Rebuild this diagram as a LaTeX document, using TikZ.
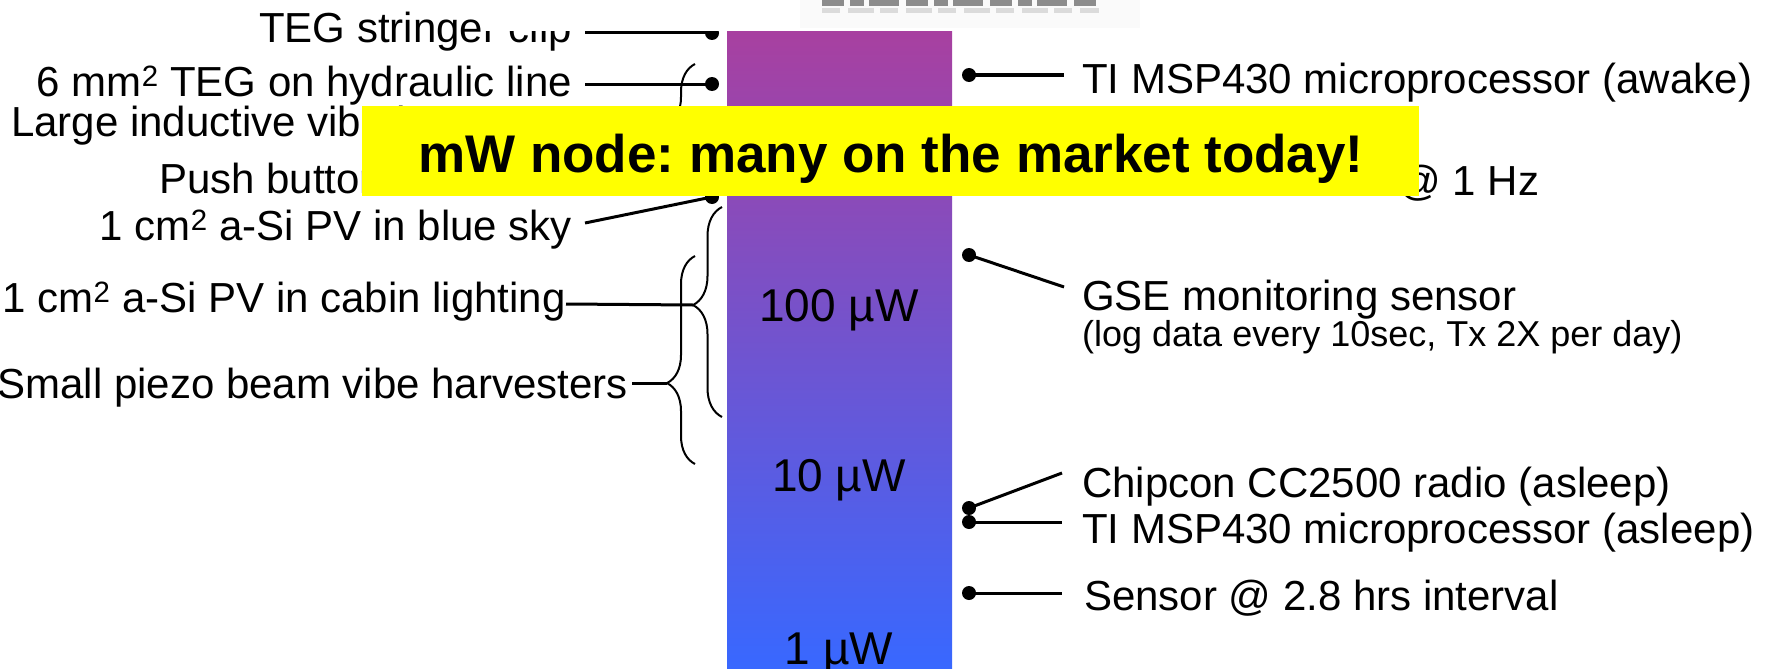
\documentclass[tikz,border=0pt]{standalone}
\usepackage{fontspec}
\setmainfont{Liberation Sans}
\usetikzlibrary{decorations.pathreplacing}
\definecolor{bartop}{RGB}{168,64,160}
\definecolor{barmid}{RGB}{115,86,212}
\definecolor{barbot}{RGB}{56,104,255}
\definecolor{banner}{RGB}{255,255,0}
\tikzset{
  lbl/.style={font=\fontsize{42}{48}\selectfont, inner sep=0pt},
  sublbl/.style={font=\fontsize{36}{42}\selectfont, inner sep=0pt},
  pw/.style={font=\fontsize{46}{52}\selectfont, inner sep=0pt, anchor=base},
  dotn/.style={circle, fill=black, inner sep=0pt, minimum size=14pt},
  conn/.style={line width=3pt},
  brc/.style={line width=2pt, decorate},
}
\frenchspacing
\begin{document}
\begin{tikzpicture}[x=1pt,y=-1pt]
\useasboundingbox (0,0) rectangle (1777,669);
% power bar
\shade[top color=bartop, middle color=barmid, bottom color=barbot] (727,31) rectangle (952,669);
\node[pw] (p100) at (839,321) {100 µW};
\node[pw] (p10) at (839,491) {10 µW};
\node[pw] (p1) at (839,664) {1 µW};

% braces
\draw[brc, decoration={brace, amplitude=28pt, aspect=0.496}] (695,185) -- (695,64);
\coordinate (bCtip) at (667,124);
\draw[brc, decoration={brace, amplitude=29pt, aspect=0.533}] (722,417) -- (722,207);
\coordinate (bBtip) at (693,305);
\draw[brc, decoration={brace, amplitude=28pt, aspect=0.389}] (695,464) -- (695,256);
\coordinate (bAtip) at (667,383);

% left labels
\node[lbl, anchor=base east] (teg) at (572,43) {TEG stringer clip};
\coordinate (tegL) at (585,33);
\node[dotn] (tegD) at (712,33) {};
\draw[conn] (tegL) -- (tegD.center);

\node[lbl, anchor=base east] (hyd) at (572,96) {6 mm\textsuperscript{2} TEG on hydraulic line};
\coordinate (hydL) at (585,84);
\node[dotn] (hydD) at (712,84) {};
\draw[conn] (hydL) -- (hydD.center);

\node[lbl, anchor=base west] (ind) at (11,136) {Large inductive vibe harvesters};
\coordinate (indL) at (602,124);
\draw[conn] (indL) -- (bCtip);

\node[lbl, anchor=base west] (push) at (159,193) {Push button};
\coordinate (pushL) at (395,180);
\node[dotn] (pushD) at (712,180) {};
\draw[conn] (pushL) -- (pushD.center);

\node[lbl, anchor=base east] (sky) at (572,240) {1 cm\textsuperscript{2} a-Si PV in blue sky};
\coordinate (skyL) at (585,223);
\node[dotn] (skyD) at (712,197) {};
\draw[conn] (skyL) -- (skyD.center);

\node[lbl, anchor=base east] (cab) at (566,312) {1 cm\textsuperscript{2} a-Si PV in cabin lighting};
\coordinate (cabL) at (566,304);
\draw[conn] (cabL) -- (bBtip);

\node[lbl, anchor=base east] (pie) at (628,398) {Small piezo beam vibe harvesters};
\coordinate (pieL) at (632,383);
\draw[conn] (pieL) -- (bAtip);

% right labels
\node[dotn] (awD) at (969,75) {};
\coordinate (awR) at (1064,75);
\draw[conn] (awD.center) -- (awR);
\node[lbl, anchor=base west] (aw) at (1082,93) {TI MSP430 microprocessor (awake)};

\node[dotn] (hzD) at (969,180) {};
\coordinate (hzR) at (1064,180);
\draw[conn] (hzD.center) -- (hzR);
\node[lbl, anchor=base west] (hz) at (1088,195) {Wireless sensor @ 1 Hz};

\node[dotn] (gseD) at (969,255) {};
\coordinate (gseR) at (1064,287);
\draw[conn] (gseD.center) -- (gseR);
\node[lbl, anchor=base west] (gse) at (1082,310) {GSE monitoring sensor};
\node[sublbl, anchor=base west] (gse2) at (1082,346) {(log data every 10sec, Tx 2X per day)};

\node[dotn] (ccD) at (969,508) {};
\coordinate (ccR) at (1062,473);
\draw[conn] (ccD.center) -- (ccR);
\node[lbl, anchor=base west] (cc) at (1082,497) {Chipcon CC2500 radio (asleep)};

\node[dotn] (asD) at (969,522) {};
\coordinate (asR) at (1062,522);
\draw[conn] (asD.center) -- (asR);
\node[lbl, anchor=base west] (as) at (1082,543) {TI MSP430 microprocessor (asleep)};

\node[dotn] (snD) at (969,593) {};
\coordinate (snR) at (1062,593);
\draw[conn] (snD.center) -- (snR);
\node[lbl, anchor=base west] (sn) at (1084,610) {Sensor @ 2.8 hrs interval};

% banner
\node[fill=banner, inner sep=0pt, minimum width=1057pt, minimum height=90pt] (box) at (890.5,151) {};
\node[font=\fontsize{53}{60}\selectfont\bfseries, inner sep=0pt, anchor=base] (boxtxt) at (891,172) {mW node: many on the market today!};

% faded image fragment at the top
\fill[white] (481,0) rectangle (1148,31);
\fill[black!2] (800,0) rectangle (1140,28);
\draw[black!45, line width=6pt, dash pattern=on 22pt off 6pt on 14pt off 5pt on 30pt off 7pt] (822,3) -- (1099,3);
\draw[black!14, line width=5pt, dash pattern=on 18pt off 8pt on 26pt off 6pt] (822,11) -- (1099,11);
\end{tikzpicture}
\end{document}
